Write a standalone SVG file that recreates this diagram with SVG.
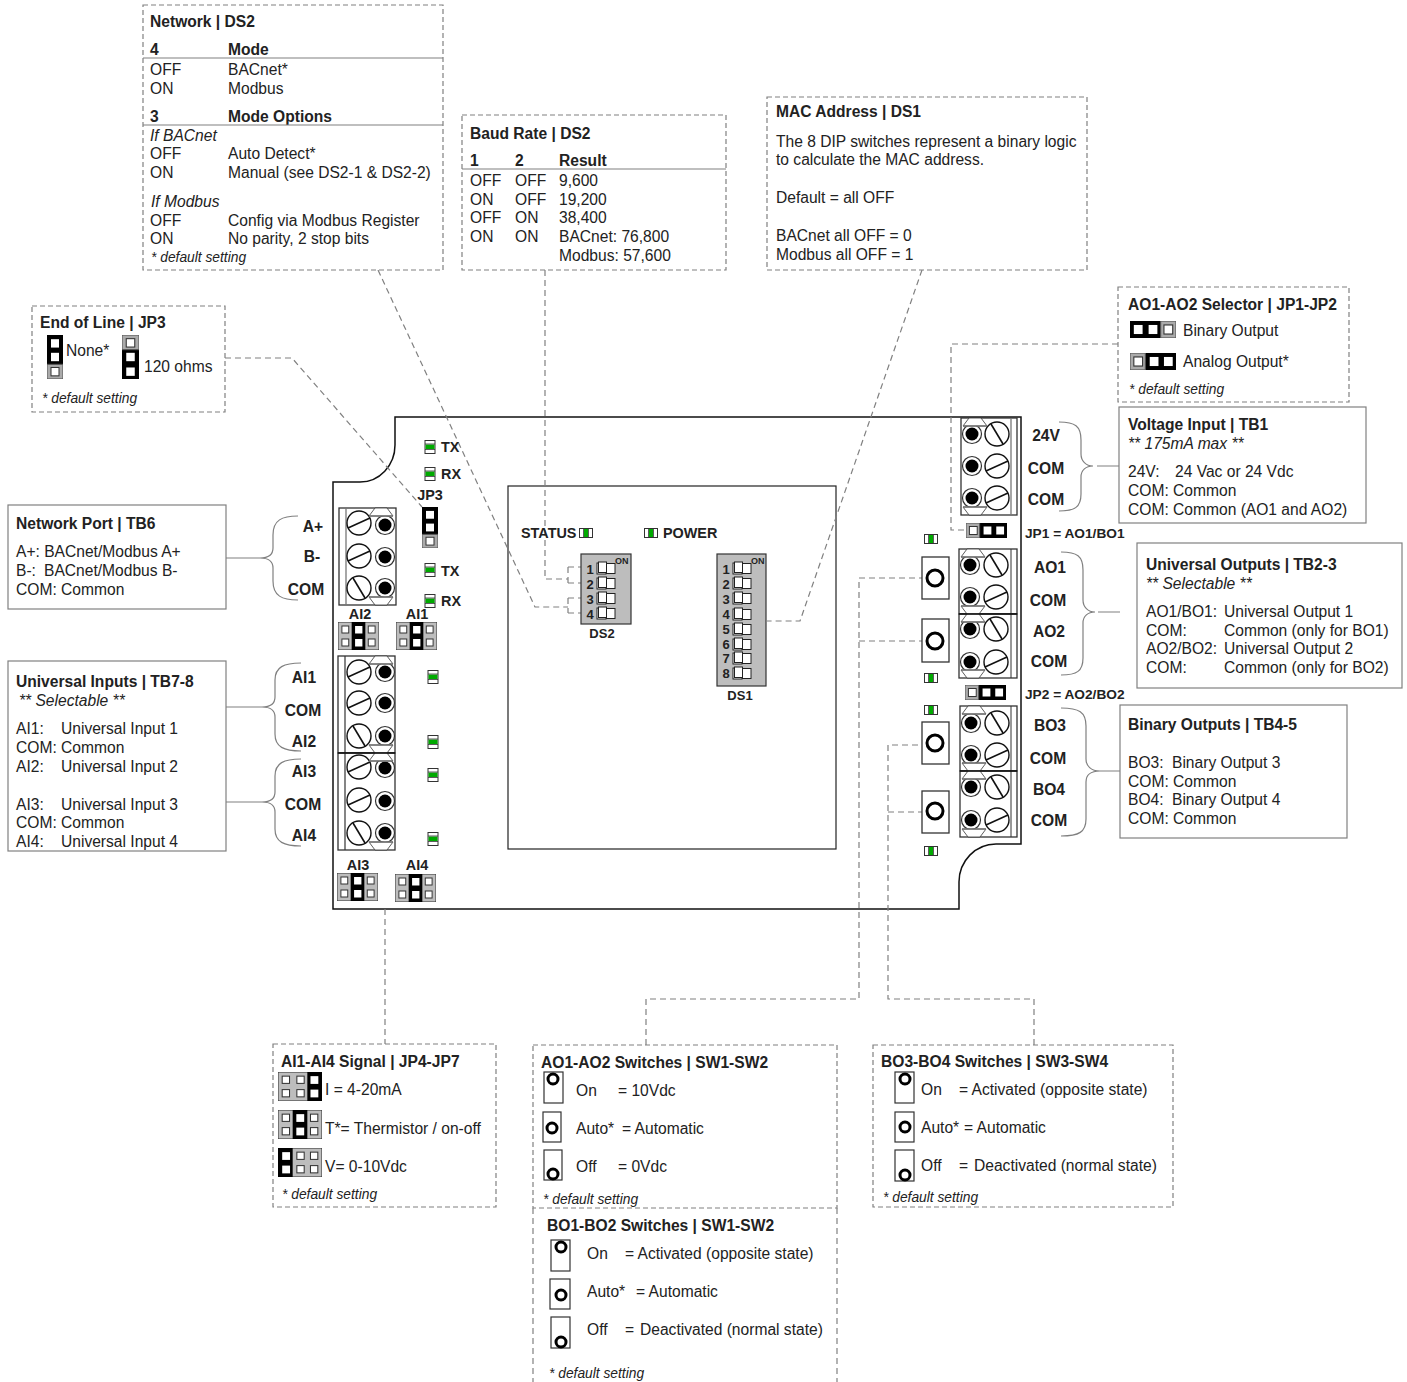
<svg xmlns="http://www.w3.org/2000/svg" xmlns:xlink="http://www.w3.org/1999/xlink" width="1407" height="1382" viewBox="0 0 1407 1382">
<style>
text{font-family:"Liberation Sans",Arial,sans-serif;font-size:15.6px;fill:#222;transform:translateY(1px)}
.b{font-weight:700}
.i{font-style:italic}
.s{font-style:italic;font-size:13.8px;transform:none}
.m{text-anchor:middle}
.l{font-weight:700;font-size:15.6px}
.d{font-weight:700;font-size:13.7px;transform:none}
.st{font-weight:700;font-size:14.4px;transform:none}
.n{font-weight:700;font-size:13px;transform:none}
.on{font-weight:700;font-size:9px;transform:none}
.box{fill:#fff;stroke:#808080;stroke-width:1.2}
.dash{fill:#fff;stroke:#808080;stroke-width:1.2;stroke-dasharray:5 3}
.con{fill:none;stroke:#808080;stroke-width:1.2;stroke-dasharray:6 4}
.br{fill:none;stroke:#808080;stroke-width:1.2}
.rule{stroke:#808080;stroke-width:1.2}
.tb{fill:#fff;stroke:#333;stroke-width:1.3}
.sw{fill:#fff;stroke:#333;stroke-width:1.2}
.ring{fill:#fff;stroke:#000;stroke-width:3}
</style>
<defs>
<symbol id="s1" overflow="visible"><circle r="12" fill="#fff" stroke="#111" stroke-width="1.4"/><line x1="-11" y1="5" x2="11" y2="-5" stroke="#111" stroke-width="1.6"/></symbol>
<symbol id="s2" overflow="visible"><circle r="12" fill="#fff" stroke="#111" stroke-width="1.4"/><line x1="-6" y1="-10" x2="6" y2="10" stroke="#111" stroke-width="1.6"/></symbol>
<symbol id="h" overflow="visible"><circle r="9.5" fill="#fff" stroke="#333" stroke-width="1.2"/><circle r="6.5" fill="#000"/></symbol>
<symbol id="td" overflow="visible"><polygon points="-6,0 6,0 12,8 -12,8" fill="#fff" stroke="#333" stroke-width="0.8"/><line x1="-12" y1="8" x2="12" y2="8" stroke="#777" stroke-width="1.5"/></symbol>
<symbol id="tu" overflow="visible"><polygon points="-6,0 6,0 12,-8 -12,-8" fill="#fff" stroke="#333" stroke-width="0.8"/><line x1="-12" y1="-8" x2="12" y2="-8" stroke="#777" stroke-width="1.5"/></symbol>
<symbol id="lv" overflow="visible"><rect x="-5" y="-6.5" width="10" height="13" fill="#fff" stroke="#333" stroke-width="1"/><rect x="-4.5" y="-2.5" width="9" height="4.5" fill="#0a0"/><line x1="-5" y1="-3" x2="5" y2="-3" stroke="#333" stroke-width=".8"/><line x1="-5" y1="2.5" x2="5" y2="2.5" stroke="#333" stroke-width=".8"/></symbol>
<symbol id="lh" overflow="visible"><rect x="-6.5" y="-4.5" width="13" height="9" fill="#fff" stroke="#333" stroke-width="1"/><rect x="-2" y="-4" width="4" height="8" fill="#0a0"/><line x1="-2.5" y1="-4" x2="-2.5" y2="4" stroke="#333" stroke-width=".8"/><line x1="2.5" y1="-4" x2="2.5" y2="4" stroke="#333" stroke-width=".8"/></symbol>
<g id="cells"><rect x="0" y="0" width="42" height="28" fill="#bdbdbd" stroke="#333"/><rect x="4" y="4" width="7" height="7" fill="#fff" stroke="#333"/><rect x="18" y="4" width="7" height="7" fill="#fff" stroke="#333"/><rect x="31" y="4" width="7" height="7" fill="#fff" stroke="#333"/><rect x="4" y="17" width="7" height="7" fill="#fff" stroke="#333"/><rect x="18" y="17" width="7" height="7" fill="#fff" stroke="#333"/><rect x="31" y="17" width="7" height="7" fill="#fff" stroke="#333"/></g>
<symbol id="jm" viewBox="0 0 42 28" preserveAspectRatio="none"><use href="#cells"/><rect x="14" y="0" width="14" height="28" fill="#000"/><rect x="17.5" y="4" width="7.5" height="7.5" fill="#fff"/><rect x="17.5" y="17" width="7.5" height="7.5" fill="#fff"/></symbol>
<symbol id="jr" viewBox="0 0 42 28" preserveAspectRatio="none"><use href="#cells"/><rect x="28" y="0" width="14" height="28" fill="#000"/><rect x="31" y="4" width="7.5" height="7.5" fill="#fff"/><rect x="31" y="17" width="7.5" height="7.5" fill="#fff"/></symbol>
<symbol id="jl" viewBox="0 0 42 28" preserveAspectRatio="none"><use href="#cells"/><rect x="0" y="0" width="14" height="28" fill="#000"/><rect x="4" y="4" width="7.5" height="7.5" fill="#fff"/><rect x="4" y="17" width="7.5" height="7.5" fill="#fff"/></symbol>
<symbol id="jha" viewBox="0 0 42 15" preserveAspectRatio="none"><rect width="42" height="15" fill="#000"/><rect width="14" height="15" fill="#aaa" stroke="#555"/><rect x="3.5" y="3.5" width="8" height="8" fill="#fff" stroke="#333"/><rect x="18" y="3.5" width="8" height="8" fill="#fff"/><rect x="31" y="3.5" width="8" height="8" fill="#fff"/></symbol>
<symbol id="jhb" viewBox="0 0 42 15" preserveAspectRatio="none"><rect width="42" height="15" fill="#000"/><rect x="28" width="14" height="15" fill="#aaa" stroke="#555"/><rect x="3.5" y="3.5" width="8" height="8" fill="#fff"/><rect x="17" y="3.5" width="8" height="8" fill="#fff"/><rect x="31" y="3.5" width="8" height="8" fill="#fff" stroke="#333"/></symbol>
<symbol id="jvb" viewBox="0 0 16 42" preserveAspectRatio="none"><rect width="16" height="42" fill="#000"/><rect y="28" width="16" height="14" fill="#aaa" stroke="#555"/><rect x="4" y="4" width="8" height="8" fill="#fff"/><rect x="4" y="17" width="8" height="8" fill="#fff"/><rect x="4" y="31" width="8" height="8" fill="#fff" stroke="#333"/></symbol>
<symbol id="jvt" viewBox="0 0 16 42" preserveAspectRatio="none"><rect width="16" height="42" fill="#000"/><rect width="16" height="14" fill="#aaa" stroke="#555"/><rect x="4" y="3.5" width="8" height="8" fill="#fff" stroke="#333"/><rect x="4" y="17" width="8" height="8" fill="#fff"/><rect x="4" y="31" width="8" height="8" fill="#fff"/></symbol>
<symbol id="dip" overflow="visible"><rect x="9" y="1.5" width="9" height="10" fill="#fff" stroke="#222"/><rect x="0" y="1" width="9" height="11" fill="#fff" stroke="#222"/><rect x="1.5" y="0" width="8" height="10.5" fill="#fff" stroke="#222"/></symbol>
</defs>
<rect width="1407" height="1382" fill="#fff"/>

<g id="board">
<path d="M395 417H1021V844H996A37 38 0 0 0 959 882V909H333V482H360A35 37 0 0 0 395 445Z" fill="#fff" stroke="#111" stroke-width="1.5"/>
<rect x="508" y="486" width="328" height="363" fill="#fff" stroke="#222" stroke-width="1.2"/>
</g>

<g id="connectors">
<path class="con" d="M378 270L535 607H568M568 598V613M568 598H581M568 613H581"/>
<path class="con" d="M545 270V579H568M568 567V583M568 567H581M568 583H581"/>
<path class="con" d="M922 270L800 621H767"/>
<path class="con" d="M225 358H292L422 507"/>
<path class="con" d="M1118 344H951V530H966"/>
<path class="con" d="M646 1045V999H859V578H922M859 641H922"/>
<path class="con" d="M1034 1045V999H888V745H922M888 812H922"/>
<path class="con" d="M385 909V1044"/>
<path class="br" d="M298 516C282 516 273 520 273 535V548C273 555 268 558 260 558C268 558 273 561 273 568V581C273 596 282 600 298 600M260 558H226"/>
<path class="br" d="M301 663C284 663 275 667 275 680V697C275 704 270 707 262 707C270 707 275 710 275 717V734C275 747 284 751 301 751M262 707H226"/>
<path class="br" d="M301 759C284 759 275 763 275 776V792C275 799 270 802 262 802C270 802 275 805 275 812V829C275 842 284 846 301 846M262 802H226"/>
<path class="br" d="M1059 422C1075 422 1081 426 1081 440V454C1081 461 1086 466 1093 466C1086 466 1081 470 1081 477V494C1081 507 1075 511 1059 511M1097 466H1120"/>
<path class="br" d="M1061 552C1077 552 1083 556 1083 570V600C1083 607 1088 612 1095 612C1088 612 1083 616 1083 623V658C1083 671 1077 675 1061 675M1098 612H1120"/>
<path class="br" d="M1061 708C1079 708 1086 712 1086 726V759C1086 766 1091 771 1100 771C1091 771 1086 775 1086 782V819C1086 832 1079 836 1061 836M1100 771H1120"/>
</g>

<g id="TB6">
<rect class="tb" x="339" y="508" width="57" height="97"/><line x1="346" y1="508" x2="346" y2="605" stroke="#777" stroke-width="1.3"/>
<use href="#s1" x="359" y="523"/><use href="#s1" x="359" y="556"/><use href="#s2" x="359" y="588"/>
<use href="#h" x="385" y="525"/><use href="#h" x="385" y="557"/><use href="#h" x="385" y="588"/>
<use href="#td" x="381" y="508"/><use href="#tu" x="381" y="605"/>
<text class="l m" x="313" y="531">A+</text><text class="l m" x="312" y="561">B-</text><text class="l m" x="306" y="594">COM</text>
</g>
<g id="TB7-8">
<rect class="tb" x="338" y="656" width="57" height="97"/><rect class="tb" x="338" y="753" width="57" height="97"/><line x1="345" y1="656" x2="345" y2="850" stroke="#333" stroke-width="1.2"/>
<use href="#s1" x="359" y="672"/><use href="#s1" x="359" y="703"/><use href="#s2" x="359" y="736"/><use href="#s1" x="359" y="767"/><use href="#s1" x="359" y="800"/><use href="#s2" x="359" y="833"/>
<use href="#h" x="385" y="672"/><use href="#h" x="385" y="703"/><use href="#h" x="385" y="736"/><use href="#h" x="385" y="768"/><use href="#h" x="385" y="801"/><use href="#h" x="385" y="833"/>
<use href="#td" x="381" y="656"/><use href="#tu" x="381" y="753"/><use href="#td" x="381" y="753"/><use href="#tu" x="381" y="850"/>
<line x1="338" y1="753" x2="395" y2="753" stroke="#111" stroke-width="1.5"/>
<text class="l m" x="304" y="682">AI1</text><text class="l m" x="303" y="715">COM</text><text class="l m" x="304" y="746">AI2</text><text class="l m" x="304" y="776">AI3</text><text class="l m" x="303" y="809">COM</text><text class="l m" x="304" y="840">AI4</text>
</g>
<g id="TB1">
<rect class="tb" x="961" y="418" width="56" height="97"/><line x1="1011" y1="418" x2="1011" y2="515" stroke="#777" stroke-width="1.3"/>
<use href="#h" x="972" y="434"/><use href="#h" x="972" y="466"/><use href="#h" x="972" y="498"/>
<use href="#s2" x="997" y="434"/><use href="#s1" x="997" y="466"/><use href="#s1" x="997" y="498"/>
<use href="#td" x="975" y="418"/><use href="#tu" x="975" y="515"/>
<text class="l m" x="1046" y="440">24V</text><text class="l m" x="1046" y="473">COM</text><text class="l m" x="1046" y="504">COM</text>
</g>
<g id="TB2-3">
<rect class="tb" x="959" y="549" width="58" height="65"/><rect class="tb" x="959" y="614" width="58" height="64"/><line x1="1011" y1="549" x2="1011" y2="678" stroke="#333" stroke-width="1"/>
<use href="#h" x="970" y="565"/><use href="#h" x="970" y="597"/><use href="#h" x="970" y="629"/><use href="#h" x="970" y="662"/>
<use href="#s2" x="996" y="565"/><use href="#s1" x="996" y="597"/><use href="#s2" x="996" y="629"/><use href="#s1" x="996" y="662"/>
<use href="#td" x="973" y="549"/><use href="#tu" x="973" y="614"/><use href="#td" x="973" y="614"/><use href="#tu" x="973" y="678"/>
<line x1="959" y1="614" x2="1017" y2="614" stroke="#111" stroke-width="1.3"/>
<text class="l m" x="1050" y="572">AO1</text><text class="l m" x="1048" y="605">COM</text><text class="l m" x="1049" y="636">AO2</text><text class="l m" x="1049" y="666">COM</text>
</g>
<g id="TB4-5">
<rect class="tb" x="960" y="706" width="57" height="65"/><rect class="tb" x="960" y="771" width="57" height="66"/><line x1="1011" y1="706" x2="1011" y2="837" stroke="#333" stroke-width="1"/>
<use href="#h" x="971" y="723"/><use href="#h" x="971" y="755"/><use href="#h" x="971" y="787"/><use href="#h" x="971" y="820"/>
<use href="#s2" x="997" y="723"/><use href="#s1" x="997" y="755"/><use href="#s2" x="997" y="787"/><use href="#s1" x="997" y="820"/>
<use href="#td" x="974" y="706"/><use href="#tu" x="974" y="771"/><use href="#td" x="974" y="771"/><use href="#tu" x="974" y="837"/>
<line x1="960" y1="771" x2="1017" y2="771" stroke="#111" stroke-width="1.3"/>
<text class="l m" x="1050" y="730">BO3</text><text class="l m" x="1048" y="763">COM</text><text class="l m" x="1049" y="794">BO4</text><text class="l m" x="1049" y="825">COM</text>
</g>

<g id="leds">
<use href="#lv" x="430" y="447"/><use href="#lv" x="430" y="474"/><use href="#lv" x="430" y="570"/><use href="#lv" x="430" y="601"/>
<use href="#lv" x="433" y="677"/><use href="#lv" x="433" y="742"/><use href="#lv" x="433" y="775"/><use href="#lv" x="433" y="839"/>
<use href="#lh" x="586" y="533"/><use href="#lh" x="651" y="533"/><use href="#lh" x="931" y="539"/><use href="#lh" x="931" y="678"/><use href="#lh" x="931" y="710"/><use href="#lh" x="931" y="851"/>
<text class="st" x="441" y="452">TX</text><text class="st" x="441" y="479">RX</text><text class="st" x="441" y="576">TX</text><text class="st" x="441" y="606">RX</text>
<text class="st" x="521" y="538">STATUS</text><text class="st" x="663" y="538">POWER</text>
</g>

<g id="jumpers">
<use href="#jvb" x="422" y="507" width="16" height="41"/>
<use href="#jm" x="338" y="622" width="41" height="28"/><use href="#jm" x="396" y="622" width="41" height="28"/>
<use href="#jm" x="337" y="873" width="41" height="28"/><use href="#jm" x="395" y="874" width="41" height="28"/>
<use href="#jha" x="966" y="523" width="41" height="15"/><use href="#jha" x="965" y="685" width="41" height="15"/>
<text class="st m" x="430" y="500">JP3</text><text class="st m" x="360" y="619">AI2</text><text class="st m" x="417" y="619">AI1</text><text class="st m" x="358" y="870">AI3</text><text class="st m" x="417" y="870">AI4</text>
<text class="d" x="1025" y="538">JP1 = AO1/BO1</text><text class="d" x="1025" y="699">JP2 = AO2/BO2</text>
</g>

<g id="buttons">
<rect class="tb" x="922" y="557" width="27" height="42"/><circle class="ring" cx="935" cy="578" r="8"/>
<rect class="tb" x="922" y="619" width="27" height="43"/><circle class="ring" cx="935" cy="641" r="8"/>
<rect class="tb" x="922" y="722" width="27" height="42"/><circle class="ring" cx="935" cy="743" r="8"/>
<rect class="tb" x="922" y="791" width="27" height="42"/><circle class="ring" cx="935" cy="811" r="8"/>
</g>

<g id="DS2">
<rect x="581" y="554" width="50" height="70" fill="#bdbdbd" stroke="#333" stroke-width="1.2"/>
<use href="#dip" x="597" y="562"/><use href="#dip" x="597" y="577"/><use href="#dip" x="597" y="592"/><use href="#dip" x="597" y="607"/>
<text class="n m" x="590" y="574">1</text><text class="n m" x="590" y="589">2</text><text class="n m" x="590" y="604">3</text><text class="n m" x="590" y="619">4</text>
<text class="on" x="615" y="564">ON</text><text class="n m" x="602" y="638">DS2</text>
</g>
<g id="DS1">
<rect x="717" y="554" width="49" height="132" fill="#bdbdbd" stroke="#333" stroke-width="1.2"/>
<use href="#dip" x="733" y="562"/><use href="#dip" x="733" y="577"/><use href="#dip" x="733" y="592"/><use href="#dip" x="733" y="608"/><use href="#dip" x="733" y="623"/><use href="#dip" x="733" y="638"/><use href="#dip" x="733" y="652"/><use href="#dip" x="733" y="667"/>
<text class="n m" x="726" y="574">1</text><text class="n m" x="726" y="589">2</text><text class="n m" x="726" y="604">3</text><text class="n m" x="726" y="619">4</text><text class="n m" x="726" y="634">5</text><text class="n m" x="726" y="649">6</text><text class="n m" x="726" y="663">7</text><text class="n m" x="726" y="678">8</text>
<text class="on" x="751" y="564">ON</text><text class="n m" x="740" y="700">DS1</text>
</g>

<g id="network-ds2">
<rect class="dash" x="143" y="5" width="300" height="265"/>
<text class="b" x="150" y="26">Network | DS2</text>
<text class="b" x="150" y="54">4</text><text class="b" x="228" y="54">Mode</text><line class="rule" x1="143" y1="58" x2="443" y2="58"/>
<text x="150" y="74">OFF</text><text x="228" y="74">BACnet*</text>
<text x="150" y="93">ON</text><text x="228" y="93">Modbus</text>
<text class="b" x="150" y="121">3</text><text class="b" x="228" y="121">Mode Options</text><line class="rule" x1="143" y1="125" x2="443" y2="125"/>
<text class="i" x="150" y="140">If BACnet</text>
<text x="150" y="158">OFF</text><text x="228" y="158">Auto Detect*</text>
<text x="150" y="177">ON</text><text x="228" y="177">Manual (see DS2-1 &amp; DS2-2)</text>
<text class="i" x="151" y="206">If Modbus</text>
<text x="150" y="225">OFF</text><text x="228" y="225">Config via Modbus Register</text>
<text x="150" y="243">ON</text><text x="228" y="243">No parity, 2 stop bits</text>
<text class="s" x="151" y="262">* default setting</text>
</g>
<g id="baud-ds2">
<rect class="dash" x="462" y="115" width="264" height="155"/>
<text class="b" x="470" y="138">Baud Rate | DS2</text>
<text class="b" x="470" y="165">1</text><text class="b" x="515" y="165">2</text><text class="b" x="559" y="165">Result</text><line class="rule" x1="462" y1="169" x2="726" y2="169"/>
<text x="470" y="185">OFF</text><text x="515" y="185">OFF</text><text x="559" y="185">9,600</text>
<text x="470" y="204">ON</text><text x="515" y="204">OFF</text><text x="559" y="204">19,200</text>
<text x="470" y="222">OFF</text><text x="515" y="222">ON</text><text x="559" y="222">38,400</text>
<text x="470" y="241">ON</text><text x="515" y="241">ON</text><text x="559" y="241">BACnet: 76,800</text>
<text x="559" y="260">Modbus: 57,600</text>
</g>
<g id="mac-ds1">
<rect class="dash" x="767" y="97" width="320" height="173"/>
<text class="b" x="776" y="116">MAC Address | DS1</text>
<text x="776" y="146">The 8 DIP switches represent a binary logic</text>
<text x="776" y="164">to calculate the MAC address.</text>
<text x="776" y="202">Default = all OFF</text>
<text x="776" y="240">BACnet all OFF = 0</text>
<text x="776" y="259">Modbus all OFF = 1</text>
</g>
<g id="selector-jp1-jp2">
<rect class="dash" x="1118" y="287" width="231" height="115"/>
<text class="b" x="1128" y="309">AO1-AO2 Selector | JP1-JP2</text>
<use href="#jhb" x="1130" y="321" width="46" height="17"/><text x="1183" y="335">Binary Output</text>
<use href="#jha" x="1130" y="353" width="46" height="17"/><text x="1183" y="366">Analog Output*</text>
<text class="s" x="1129" y="394">* default setting</text>
</g>
<g id="voltage-tb1">
<rect class="box" x="1119" y="407" width="247" height="116"/>
<text class="b" x="1128" y="429">Voltage Input | TB1</text>
<text class="i" x="1128" y="448">** 175mA max **</text>
<text x="1128" y="476">24V:</text><text x="1175" y="476">24 Vac or 24 Vdc</text>
<text x="1128" y="495">COM: Common</text>
<text x="1128" y="514">COM: Common (AO1 and AO2)</text>
</g>
<g id="outputs-tb2-3">
<rect class="box" x="1137" y="543" width="265" height="145"/>
<text class="b" x="1146" y="569">Universal Outputs | TB2-3</text>
<text class="i" x="1146" y="588">** Selectable **</text>
<text x="1146" y="616">AO1/BO1:</text><text x="1224" y="616">Universal Output 1</text>
<text x="1146" y="635">COM:</text><text x="1224" y="635">Common (only for BO1)</text>
<text x="1146" y="653">AO2/BO2:</text><text x="1224" y="653">Universal Output 2</text>
<text x="1146" y="672">COM:</text><text x="1224" y="672">Common (only for BO2)</text>
</g>
<g id="binary-tb4-5">
<rect class="box" x="1120" y="705" width="227" height="133"/>
<text class="b" x="1128" y="729">Binary Outputs | TB4-5</text>
<text x="1128" y="767">BO3:</text><text x="1172" y="767">Binary Output 3</text>
<text x="1128" y="786">COM: Common</text>
<text x="1128" y="804">BO4:</text><text x="1172" y="804">Binary Output 4</text>
<text x="1128" y="823">COM: Common</text>
</g>
<g id="network-tb6">
<rect class="box" x="8" y="505" width="218" height="104"/>
<text class="b" x="16" y="528">Network Port | TB6</text>
<text x="16" y="556">A+: BACnet/Modbus A+</text>
<text x="16" y="575">B-:</text><text x="44" y="575">BACnet/Modbus B-</text>
<text x="16" y="594">COM: Common</text>
</g>
<g id="inputs-tb7-8">
<rect class="box" x="8" y="661" width="218" height="190"/>
<text class="b" x="16" y="686">Universal Inputs | TB7-8</text>
<text class="i" x="19" y="705">** Selectable **</text>
<text x="16" y="733">AI1:</text><text x="61" y="733">Universal Input 1</text>
<text x="16" y="752">COM: Common</text>
<text x="16" y="771">AI2:</text><text x="61" y="771">Universal Input 2</text>
<text x="16" y="809">AI3:</text><text x="61" y="809">Universal Input 3</text>
<text x="16" y="827">COM: Common</text>
<text x="16" y="846">AI4:</text><text x="61" y="846">Universal Input 4</text>
</g>
<g id="eol-jp3">
<rect class="dash" x="32" y="306" width="193" height="106"/>
<text class="b" x="40" y="327">End of Line | JP3</text>
<use href="#jvb" x="47" y="335" width="16" height="44"/><text x="66" y="355">None*</text>
<use href="#jvt" x="122" y="335" width="17" height="44"/><text x="144" y="371">120 ohms</text>
<text class="s" x="42" y="403">* default setting</text>
</g>
<g id="signal-jp4-7">
<rect class="dash" x="273" y="1044" width="223" height="163"/>
<text class="b" x="281" y="1066">AI1-AI4 Signal | JP4-JP7</text>
<use href="#jr" x="278" y="1072" width="44" height="29"/><text x="325" y="1094">I = 4-20mA</text>
<use href="#jm" x="278" y="1110" width="44" height="29"/><text x="325" y="1133">T*= Thermistor / on-off</text>
<use href="#jl" x="278" y="1148" width="44" height="29"/><text x="325" y="1171">V= 0-10Vdc</text>
<text class="s" x="282" y="1199">* default setting</text>
</g>
<g id="ao-switches">
<rect class="dash" x="533" y="1045" width="304" height="163"/>
<text class="b" x="541" y="1067">AO1-AO2 Switches | SW1-SW2</text>
<rect class="sw" x="544" y="1072" width="19" height="31"/><circle class="ring" cx="553" cy="1079" r="5"/>
<rect class="sw" x="543" y="1112" width="18" height="30"/><circle class="ring" cx="552" cy="1128" r="5"/>
<rect class="sw" x="544" y="1150" width="18" height="30"/><circle class="ring" cx="553" cy="1174" r="5"/>
<text x="576" y="1095">On</text><text x="618" y="1095">= 10Vdc</text>
<text x="576" y="1133">Auto*</text><text x="622" y="1133">= Automatic</text>
<text x="576" y="1171">Off</text><text x="618" y="1171">= 0Vdc</text>
<text class="s" x="543" y="1204">* default setting</text>
</g>
<g id="bo12-switches">
<path class="con" d="M533 1208V1382M837 1208V1382" stroke-dasharray="5 3"/>
<text class="b" x="547" y="1230">BO1-BO2 Switches | SW1-SW2</text>
<rect class="sw" x="551" y="1240" width="19" height="31"/><circle class="ring" cx="561" cy="1247" r="5"/>
<rect class="sw" x="550" y="1279" width="20" height="30"/><circle class="ring" cx="561" cy="1295" r="5"/>
<rect class="sw" x="551" y="1317" width="19" height="31"/><circle class="ring" cx="561" cy="1342" r="5"/>
<text x="587" y="1258">On</text><text x="625" y="1258">= Activated (opposite state)</text>
<text x="587" y="1296">Auto*</text><text x="636" y="1296">= Automatic</text>
<text x="587" y="1334">Off</text><text x="625" y="1334">=</text><text x="640" y="1334">Deactivated (normal state)</text>
<text class="s" x="549" y="1378">* default setting</text>
</g>
<g id="bo34-switches">
<rect class="dash" x="873" y="1045" width="300" height="162"/>
<text class="b" x="881" y="1066">BO3-BO4 Switches | SW3-SW4</text>
<rect class="sw" x="895" y="1072" width="19" height="31"/><circle class="ring" cx="905" cy="1079" r="5"/>
<rect class="sw" x="895" y="1112" width="19" height="30"/><circle class="ring" cx="905" cy="1127" r="5"/>
<rect class="sw" x="895" y="1150" width="19" height="31"/><circle class="ring" cx="905" cy="1175" r="5"/>
<text x="921" y="1094">On</text><text x="959" y="1094">= Activated (opposite state)</text>
<text x="921" y="1132">Auto*</text><text x="964" y="1132">= Automatic</text>
<text x="921" y="1170">Off</text><text x="959" y="1170">=</text><text x="974" y="1170">Deactivated (normal state)</text>
<text class="s" x="883" y="1202">* default setting</text>
</g>
</svg>
